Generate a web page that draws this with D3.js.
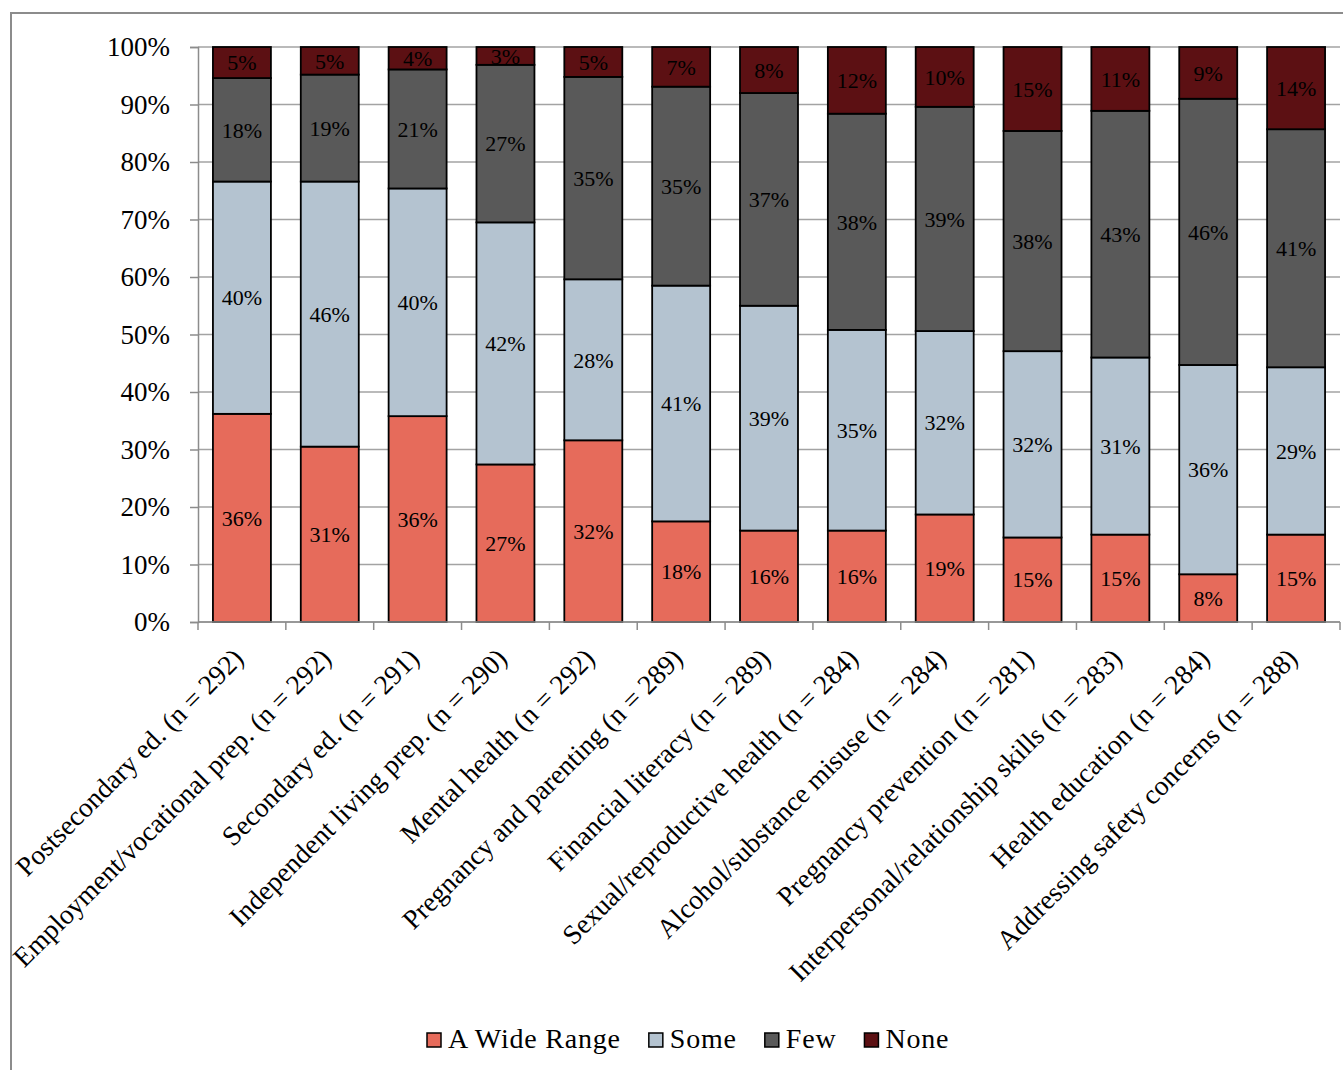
<!DOCTYPE html>
<html>
<head>
<meta charset="utf-8">
<script src="https://cdn.jsdelivr.net/npm/d3@7"></script>
<style>
  html, body { margin: 0; padding: 0; background: #fff; }
  svg { display: block; }
  text { font-family: "Liberation Serif", "Times New Roman", serif; fill: #000; }
</style>
</head>
<body>
<svg id="chart" width="1343" height="1070"></svg>
<script>
// Program areas with respondent counts
const categories = [
  "Postsecondary ed. (n = 292)",
  "Employment/vocational prep. (n = 292)",
  "Secondary ed. (n = 291)",
  "Independent living prep. (n = 290)",
  "Mental health (n = 292)",
  "Pregnancy and parenting (n = 289)",
  "Financial literacy (n = 289)",
  "Sexual/reproductive health (n = 284)",
  "Alcohol/substance misuse (n = 284)",
  "Pregnancy prevention (n = 281)",
  "Interpersonal/relationship skills (n = 283)",
  "Health education (n = 284)",
  "Addressing safety concerns (n = 288)"
];

// Share of responses (%) per category
const wideRange = [36.2, 30.5, 35.8, 27.4, 31.6, 17.5, 15.9, 15.9, 18.7, 14.7, 15.2, 8.3, 15.2];
const some      = [40.4, 46.1, 39.6, 42.1, 28.0, 41.0, 39.1, 34.9, 31.9, 32.4, 30.8, 36.4, 29.1];
const few       = [18.0, 18.6, 20.7, 27.4, 35.2, 34.6, 37.0, 37.6, 39.0, 38.3, 42.9, 46.3, 41.4];
const none      = [ 5.4,  4.8,  3.9,  3.1,  5.2,  6.9,  8.0, 11.6, 10.4, 14.6, 11.1,  9.0, 14.3];

const seriesNames = ["A Wide Range", "Some", "Few", "None"];
const seriesColors = ["#e66b5b", "#b4c3d0", "#595959", "#5c1013"];
const yTicks = [0, 10, 20, 30, 40, 50, 60, 70, 80, 90, 100];

const rows = categories.map((c, i) => ({
  category: c,
  "A Wide Range": wideRange[i],
  "Some": some[i],
  "Few": few[i],
  "None": none[i]
}));

const svg = d3.select("#chart");

// outer chart frame
svg.append("rect")
  .attr("x", 11).attr("y", 13)
  .attr("width", 1400).attr("height", 1100)
  .attr("fill", "none")
  .attr("stroke", "#8c8c8c")
  .attr("stroke-width", 2);

const plot = { left: 198, right: 1340, top: 47, bottom: 622 };

const x = d3.scaleBand()
  .domain(categories)
  .range([plot.left, plot.right])
  .paddingInner(0.34)
  .paddingOuter(0.17);

const y = d3.scaleLinear()
  .domain([0, 100])
  .range([plot.bottom, plot.top]);

const color = d3.scaleOrdinal().domain(seriesNames).range(seriesColors);

// horizontal gridlines
svg.append("g")
  .selectAll("line")
  .data(yTicks)
  .join("line")
  .attr("x1", plot.left).attr("x2", plot.right)
  .attr("y1", d => y(d)).attr("y2", d => y(d))
  .attr("stroke", "#a3a3a3")
  .attr("stroke-width", 1.5);

// y axis
const yAxis = svg.append("g")
  .attr("transform", `translate(${plot.left},0)`)
  .call(d3.axisLeft(y).tickValues(yTicks).tickFormat(d => d + "%").tickSize(8).tickPadding(20));
yAxis.select(".domain").attr("stroke", "#8c8c8c").attr("stroke-width", 1.5);
yAxis.selectAll(".tick line").attr("stroke", "#8c8c8c").attr("stroke-width", 1.5);
yAxis.selectAll(".tick text")
  .style("font-family", "'Liberation Serif', 'Times New Roman', serif")
  .style("font-size", "27px")
  .attr("fill", "#000");

// stacked bars
const stacked = d3.stack().keys(seriesNames)(rows);

const layers = svg.append("g")
  .selectAll("g")
  .data(stacked)
  .join("g")
  .attr("fill", d => color(d.key));

layers.selectAll("rect")
  .data(d => d)
  .join("rect")
  .attr("x", d => x(d.data.category))
  .attr("width", x.bandwidth())
  .attr("y", d => y(d[1]))
  .attr("height", d => y(d[0]) - y(d[1]))
  .attr("stroke", "#000")
  .attr("stroke-width", 1.8);

// segment value labels
layers.selectAll("text")
  .data(d => d.map(p => ({ p, key: d.key })))
  .join("text")
  .attr("x", d => x(d.p.data.category) + x.bandwidth() / 2)
  .attr("y", d => y((d.p[0] + d.p[1]) / 2))
  .attr("dy", "0.35em")
  .attr("text-anchor", "middle")
  .style("font-size", "22px")
  .text(d => Math.round(d.p.data[d.key]) + "%");

// x axis line and category tick marks
const step = x.step();
const xAxis = svg.append("g");
xAxis.append("line")
  .attr("x1", plot.left).attr("x2", plot.right)
  .attr("y1", plot.bottom).attr("y2", plot.bottom)
  .attr("stroke", "#8c8c8c").attr("stroke-width", 1.5);
xAxis.selectAll("line.tick")
  .data(d3.range(categories.length + 1))
  .join("line")
  .attr("class", "tick")
  .attr("x1", i => plot.left + i * step)
  .attr("x2", i => plot.left + i * step)
  .attr("y1", plot.bottom).attr("y2", plot.bottom + 8)
  .attr("stroke", "#8c8c8c").attr("stroke-width", 1.5);

// rotated category labels
xAxis.selectAll("text")
  .data(categories)
  .join("text")
  .attr("transform", d => `translate(${x(d) + x.bandwidth() / 2 + 3},${plot.bottom + 38}) rotate(-45)`)
  .attr("text-anchor", "end")
  .style("font-size", "27.5px")
  .text(d => d);

// legend
const legend = svg.append("g").attr("transform", "translate(427,1048)");
let lx = 0;
seriesNames.forEach(name => {
  const item = legend.append("g").attr("transform", `translate(${lx},0)`);
  item.append("rect")
    .attr("x", 0).attr("y", -15)
    .attr("width", 14).attr("height", 14)
    .attr("fill", color(name))
    .attr("stroke", "#000").attr("stroke-width", 1.5);
  const t = item.append("text")
    .attr("x", 21).attr("y", 0)
    .style("font-size", "28px")
    .style("letter-spacing", "0.8px")
    .text(name);
  lx += 21 + t.node().getComputedTextLength() + 28;
});
</script>
</body>
</html>
